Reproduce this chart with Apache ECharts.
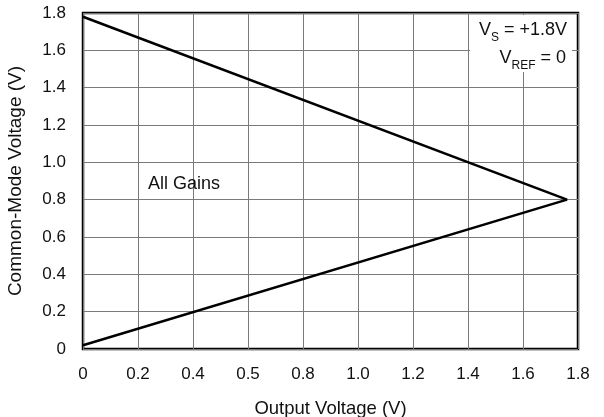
<!DOCTYPE html>
<html>
<head>
<meta charset="utf-8">
<script src="https://cdn.jsdelivr.net/npm/echarts@6/dist/echarts.min.js"></script>
<style>
html,body{margin:0;padding:0;background:#fff;}
#c{width:604px;height:417px;}
</style>
</head>
<body>
<div id="c"></div>
<script>
// Data
var outputVoltage = [0, 1.76, 0];
var commonModeVoltage = [1.78, 0.80, 0.02];
var xTickLabels = ['0', '0.2', '0.4', '0.5', '0.8', '1.0', '1.2', '1.4', '1.6', '1.8'];
var yTickLabels = ['0', '0.2', '0.4', '0.6', '0.8', '1.0', '1.2', '1.4', '1.6', '1.8'];

var lineData = outputVoltage.map(function (x, i) { return [x, commonModeVoltage[i]]; });
var FONT = '"Liberation Sans", Arial, sans-serif';

var chart = echarts.init(document.getElementById('c'), null, {renderer: 'canvas'});
chart.setOption({
  animation: false,
  backgroundColor: '#fff',
  grid: {
    left: 83, right: 26, top: 13, bottom: 68,
    containLabel: false, outerBoundsMode: 'none',
    show: true, borderColor: '#000', borderWidth: 2.5, backgroundColor: 'transparent'
  },
  xAxis: {
    type: 'value', min: 0, max: 1.8, interval: 0.2,
    name: 'Output Voltage (V)', nameLocation: 'middle', nameGap: 50,
    nameTextStyle: {color: '#111', fontSize: 18.5, fontFamily: FONT},
    axisLine: {show: false}, axisTick: {show: false},
    axisLabel: {
      color: '#111', fontSize: 17, fontFamily: FONT, margin: 17,
      formatter: function (v) { return xTickLabels[Math.round(v / 0.2)]; }
    },
    splitLine: {show: true, lineStyle: {color: '#7a7a7a', width: 1}}
  },
  yAxis: {
    type: 'value', min: 0, max: 1.8, interval: 0.2,
    name: 'Common-Mode Voltage (V)', nameLocation: 'middle', nameGap: 58,
    nameTextStyle: {color: '#111', fontSize: 19, fontFamily: FONT},
    axisLine: {show: false}, axisTick: {show: false},
    axisLabel: {
      color: '#111', fontSize: 17, fontFamily: FONT, margin: 17,
      formatter: function (v) { return yTickLabels[Math.round(v / 0.2)]; }
    },
    splitLine: {show: true, lineStyle: {color: '#7a7a7a', width: 1}}
  },
  series: [{
    type: 'line', data: lineData, showSymbol: false, symbol: 'none',
    lineStyle: {color: '#000', width: 2.5}, z: 5
  }],
  graphic: [
    {type: 'rect', shape: {x: 470, y: 15, width: 102, height: 57}, style: {fill: '#fff'}, z: 10},
    {
      type: 'text', right: 37, top: 21, z: 11,
      style: {
        text: '{v|V}{s|S}{v| = +1.8V}',
        fontFamily: FONT,
        rich: {
          v: {fontSize: 18, fontFamily: FONT, fill: '#111', verticalAlign: 'bottom', lineHeight: 22},
          s: {fontSize: 12, fontFamily: FONT, fill: '#111', verticalAlign: 'bottom', lineHeight: 15, padding: [0, 0, -5, 0]}
        }
      }
    },
    {
      type: 'text', right: 38, top: 49, z: 11,
      style: {
        text: '{v|V}{s|REF}{v| = 0}',
        fontFamily: FONT,
        rich: {
          v: {fontSize: 18, fontFamily: FONT, fill: '#111', verticalAlign: 'bottom', lineHeight: 22},
          s: {fontSize: 12, fontFamily: FONT, fill: '#111', verticalAlign: 'bottom', lineHeight: 15, padding: [0, 0, -5, 0]}
        }
      }
    },
    {
      type: 'text', left: 148, top: 175, z: 11,
      style: {text: 'All Gains', fontSize: 18, fontFamily: FONT, fill: '#111'}
    }
  ]
});
</script>
</body>
</html>
